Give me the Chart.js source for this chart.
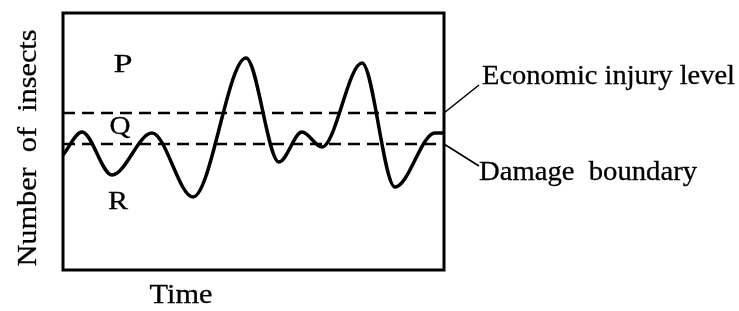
<!DOCTYPE html>
<html>
<head>
<meta charset="utf-8">
<script src="https://cdn.jsdelivr.net/npm/chart.js@4/dist/chart.umd.min.js"></script>
<style>
  html, body { margin: 0; padding: 0; background: #fff; }
  #wrap { width: 739px; height: 311px; }
</style>
</head>
<body>
<div id="wrap"><canvas id="c" width="739" height="311"></canvas></div>
<script>
// time (arbitrary units) and insect numbers
const times = [0, 19, 49, 89, 130, 183, 216, 239, 259, 299, 332, 372, 381];
const insects = [115, 138, 95, 137, 73, 212, 108, 138, 123, 207, 83, 137, 137];
const injuryLevel = 157;
const damageBoundary = 126;
const yMax = 257;
const xMax = 381;

const serif = "'Liberation Serif', 'DejaVu Serif', serif";

// draw text stretched horizontally to a given width (the original is a bit wide)
function wideText(ctx, text, x, y, width, align) {
  const w = ctx.measureText(text).width;
  const sx = width / w;
  ctx.save();
  ctx.translate(x, y);
  ctx.scale(sx, 1);
  ctx.textAlign = align;
  ctx.fillText(text, 0, 0);
  ctx.lineWidth = 0.3;
  ctx.strokeText(text, 0, 0);
  ctx.restore();
}

const labelsPlugin = {
  id: "labels",
  afterDraw(chart) {
    const { ctx, chartArea: a, scales } = chart;
    const yInj = scales.y.getPixelForValue(injuryLevel);
    const yDmg = scales.y.getPixelForValue(damageBoundary);
    ctx.save();
    // frame
    ctx.strokeStyle = "#000";
    ctx.lineWidth = 3;
    ctx.strokeRect(a.left, a.top, a.right - a.left, a.bottom - a.top);

    // leader lines
    ctx.lineWidth = 1.6;
    ctx.beginPath();
    ctx.moveTo(a.right, yInj);
    ctx.lineTo(a.right + 35, yInj - 28);
    ctx.moveTo(a.right, yDmg);
    ctx.lineTo(a.right + 35, yDmg + 22);
    ctx.stroke();

    ctx.fillStyle = "#000";
    ctx.font = "27px " + serif;
    ctx.textBaseline = "alphabetic";
    wideText(ctx, "Economic injury level", 482, 84, 253, "left");
    wideText(ctx, "Damage  boundary", 479, 180, 218, "left");
    wideText(ctx, "Time", 181, 303, 63, "center");

    ctx.font = "26px " + serif;
    wideText(ctx, "P", 123, 72, 19, "center");
    wideText(ctx, "Q", 120, 134, 21, "center");
    wideText(ctx, "R", 118, 209, 20, "center");

    ctx.translate(36, 148);
    ctx.rotate(-Math.PI / 2);
    ctx.font = "28px " + serif;
    wideText(ctx, "Number  of  insects", 0, 0, 237, "center");
    ctx.restore();
  }
};

new Chart(document.getElementById("c"), {
  type: "line",
  data: {
    datasets: [
      {
        data: times.map((t, i) => ({ x: t, y: insects[i] })),
        borderColor: "#000",
        borderWidth: 3.5,
        pointRadius: 0,
        cubicInterpolationMode: "monotone",
        fill: false
      },
      {
        data: [{ x: 0, y: injuryLevel }, { x: xMax, y: injuryLevel }],
        borderColor: "#000",
        borderWidth: 2.5,
        borderDash: [12, 7],
        pointRadius: 0
      },
      {
        data: [{ x: 0, y: damageBoundary }, { x: xMax, y: damageBoundary }],
        borderColor: "#000",
        borderWidth: 2.5,
        borderDash: [12, 7],
        pointRadius: 0
      }
    ]
  },
  options: {
    responsive: false,
    animation: false,
    layout: { padding: { left: 63, right: 295, top: 13, bottom: 41 } },
    plugins: { legend: { display: false }, tooltip: { enabled: false } },
    scales: {
      x: { type: "linear", min: 0, max: xMax, display: false },
      y: { min: 0, max: yMax, display: false }
    }
  },
  plugins: [labelsPlugin]
});
</script>
</body>
</html>
